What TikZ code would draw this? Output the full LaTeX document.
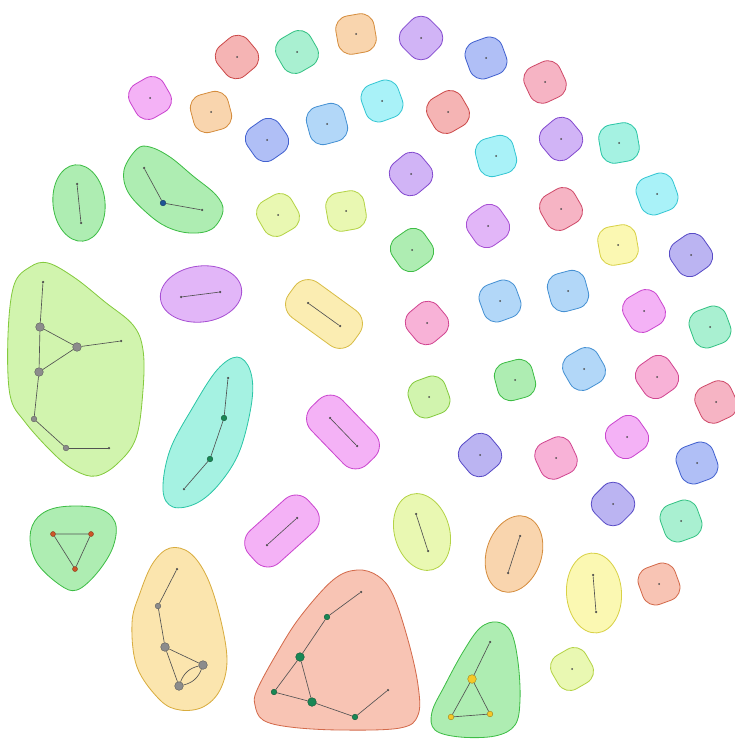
\documentclass[tikz,border=0pt]{standalone}
\usepackage{tikz}
\usetikzlibrary{shapes.geometric}
\definecolor{kRed}{RGB}{232,85,85}
\definecolor{kSalmon}{RGB}{240,120,85}
\definecolor{kMint}{RGB}{60,220,150}
\definecolor{kTeal}{RGB}{50,225,190}
\definecolor{kOrange}{RGB}{242,160,70}
\definecolor{kApricot}{RGB}{245,195,70}
\definecolor{kPurple}{RGB}{150,85,235}
\definecolor{kOrchid}{RGB}{190,90,240}
\definecolor{kBlue}{RGB}{75,110,235}
\definecolor{kIndigo}{RGB}{100,85,225}
\definecolor{kRose}{RGB}{235,85,120}
\definecolor{kMagenta}{RGB}{230,80,235}
\definecolor{kPink}{RGB}{238,80,165}
\definecolor{kSky}{RGB}{80,165,240}
\definecolor{kCyan}{RGB}{60,225,240}
\definecolor{kLime}{RGB}{205,240,80}
\definecolor{kChart}{RGB}{150,230,70}
\definecolor{kGreen}{RGB}{70,215,80}
\definecolor{kYellow}{RGB}{245,238,80}
\definecolor{kSun}{RGB}{245,215,80}
\definecolor{vGray}{RGB}{140,140,140}
\definecolor{vGreen}{RGB}{25,135,85}
\definecolor{vBlue}{RGB}{30,85,150}
\definecolor{vRust}{RGB}{205,85,40}
\definecolor{vGold}{RGB}{245,200,40}
\tikzset{
  bfill/.style={fill=#1!44, draw=#1!88!black, line width=0.7pt},
  sblob/.style={bfill=#1, rectangle, rounded corners=4mm, minimum size=11.6mm, inner sep=0pt},
  eblob/.style={bfill=#1, ellipse, inner sep=0pt},
  rblob/.style={bfill=#1, rectangle, rounded corners=5mm, minimum width=24mm,
                minimum height=13mm, inner sep=0pt},
  gedge/.style={draw=black!68, line width=0.55pt},
  gend/.style={circle, fill=black!70, minimum size=0.75mm, inner sep=0pt},
  gsmall/.style={circle, draw=#1!65!black, fill=#1, line width=0.35pt,
                 minimum size=1.7mm, inner sep=0pt},
  gbig/.style={gsmall=#1, minimum size=2.6mm},
}
\begin{document}
\begin{tikzpicture}[x=0.03cm, y=-0.03cm]
  \useasboundingbox (0,0) rectangle (734,740);
  \foreach \x/\y/\c/\r [count=\k] in {237/57/kRed/40, 297/52/kMint/30, 356/34/kOrange/10,
      421/38/kPurple/45, 486/58/kBlue/20, 545/82/kRose/25, 150/98/kMagenta/30,
      211/112/kOrange/15, 267/140/kBlue/35, 327/124/kSky/15, 382/101/kCyan/20,
      448/112/kRed/30, 496/156/kCyan/15, 561/139/kPurple/40, 619/143/kTeal/10,
      411/174/kPurple/40, 657/194/kCyan/20, 561/209/kRose/30, 488/226/kOrchid/35,
      278/215/kLime/30, 346/211/kLime/10, 412/250/kGreen/35, 618/245/kYellow/10,
      691/255/kIndigo/35, 500/301/kSky/20, 568/291/kSky/15, 644/311/kMagenta/30,
      710/327/kMint/20, 427/323/kPink/40, 515/380/kGreen/15, 584/369/kSky/30,
      657/377/kPink/35, 716/402/kRose/25, 429/397/kChart/20, 480/455/kIndigo/40,
      556/458/kPink/25, 627/437/kMagenta/35, 697/463/kBlue/20, 613/504/kIndigo/45,
      681/521/kMint/20, 659/584/kSalmon/20, 572/669/kLime/30} {
    \node[sblob=\c, rotate=\r] (s\k) at (\x,\y) {};
    \node[gend, minimum size=0.6mm] (c\k) at (s\k.center) {};
  }

  \node[eblob=kGreen, minimum width=15.6mm, minimum height=23mm, rotate=6] (ba) at (79,203) {};
  \node[gend] (a1) at (77,184) {};
  \node[gend] (a2) at (81,223) {};
  \draw[gedge] (a1) -- (a2);

  \node[eblob=kOrchid, minimum width=24.5mm, minimum height=16.8mm, rotate=7] (bc) at (201,294) {};
  \node[gend] (e1) at (181,297) {};
  \node[gend] (e2) at (220,292) {};
  \draw[gedge] (e1) -- (e2);

  \node[eblob=kLime, minimum width=16.5mm, minimum height=23.5mm, rotate=16] (bm) at (422,532) {};
  \node[gend] (m1) at (416,514) {};
  \node[gend] (m2) at (428,551) {};
  \draw[gedge] (m1) -- (m2);

  \node[eblob=kOrange, minimum width=16.5mm, minimum height=23.5mm, rotate=-18] (bn) at (514,554) {};
  \node[gend] (n1) at (520,536) {};
  \node[gend] (n2) at (508,573) {};
  \draw[gedge] (n1) -- (n2);

  \node[eblob=kYellow, minimum width=16.5mm, minimum height=24mm, rotate=4] (bo) at (594,593) {};
  \node[gend] (o1) at (593,575) {};
  \node[gend] (o2) at (596,612) {};
  \draw[gedge] (o1) -- (o2);

  \node[rblob=kSun, rotate=-36] (bf) at (324,314) {};
  \node[gend] (f1) at (308,303) {};
  \node[gend] (f2) at (340,326) {};
  \draw[gedge] (f1) -- (f2);

  \node[rblob=kMagenta, rotate=-46] (bg) at (343,432) {};
  \node[gend] (h1) at (330,418) {};
  \node[gend] (h2) at (357,446) {};
  \draw[gedge] (h1) -- (h2);

  \node[rblob=kMagenta, rotate=42] (bh) at (282,531) {};
  \node[gend] (i1) at (267,545) {};
  \node[gend] (i2) at (297,518) {};
  \draw[gedge] (i1) -- (i2);

  \draw[bfill=kGreen] plot[smooth cycle, tension=0.6] coordinates {(137,149) (124,170) (128,192)
    (147,213) (167,227) (190,233) (212,229) (223,211) (216,195) (193,176) (170,157) (150,147)};
  \node[gend] (b1) at (144,168) {};
  \node[gsmall=vBlue] (b2) at (163,203) {};
  \node[gend] (b3) at (202,210) {};
  \draw[gedge] (b1) -- (b2) -- (b3);

  \draw[bfill=kChart] plot[smooth cycle, tension=0.6] coordinates {(14,285) (30,267) (48,263)
    (75,278) (105,302) (133,325) (143,350) (143,390) (136,438) (117,464) (96,476) (76,471)
    (55,455) (25,422) (10,395) (8,335)};
  \node[gend] (d1) at (43,282) {};
  \node[gbig=vGray] (d2) at (40,327) {};
  \node[gbig=vGray] (d3) at (77,347) {};
  \node[gend] (d4) at (121,341) {};
  \node[gbig=vGray] (d5) at (39,372) {};
  \node[gsmall=vGray] (d6) at (34,419) {};
  \node[gsmall=vGray] (d7) at (66,448) {};
  \node[gend] (d8) at (109,448) {};
  \foreach \a/\b in {1/2,2/5,2/3,3/5,3/4,5/6,6/7,7/8} {
    \draw[gedge] (d\a) -- (d\b);
  }

  \draw[bfill=kTeal] plot[smooth cycle, tension=0.6] coordinates {(237,357) (250,370) (252,400)
    (240,450) (220,483) (197,503) (173,507) (163,490) (170,450) (193,407) (217,370)};
  \node[gend] (t1) at (228,378) {};
  \node[gsmall=vGreen] (t2) at (224,418) {};
  \node[gsmall=vGreen] (t3) at (210,459) {};
  \node[gend] (t4) at (184,489) {};
  \draw[gedge] (t1) -- (t2) -- (t3) -- (t4);

  \draw[bfill=kGreen] plot[smooth cycle, tension=0.6] coordinates {(60,507) (97,508) (115,522)
    (113,547) (97,573) (77,590) (60,585) (37,563) (30,537) (38,517)};
  \node[gsmall=vRust, minimum size=1.5mm] (r1) at (53,534) {};
  \node[gsmall=vRust, minimum size=1.5mm] (r2) at (91,534) {};
  \node[gsmall=vRust, minimum size=1.5mm] (r3) at (75,569) {};
  \draw[gedge] (r1) -- (r2) -- (r3) -- (r1);

  \draw[bfill=kApricot] plot[smooth cycle, tension=0.6] coordinates {(170,548) (190,553) (207,577)
    (220,617) (227,660) (220,690) (203,707) (180,710) (160,700) (137,667) (132,623) (140,593)
    (153,563)};
  \node[gend] (p1) at (177,569) {};
  \node[gsmall=vGray] (p2) at (158,606) {};
  \node[gbig=vGray] (p3) at (165,647) {};
  \node[gbig=vGray] (p4) at (203,665) {};
  \node[gbig=vGray] (p5) at (179,686) {};
  \foreach \a/\b in {1/2,2/3,3/4,3/5} {
    \draw[gedge] (p\a) -- (p\b);
  }
  \draw[gedge] (p4) to[bend left=28] (p5);
  \draw[gedge] (p4) to[bend right=28] (p5);

  \draw[bfill=kSalmon] plot[smooth cycle, tension=0.6] coordinates {(357,570) (378,576) (393,595)
    (408,640) (418,685) (418,715) (400,728) (340,730) (290,727) (263,720) (255,705) (257,690)
    (277,653) (300,617) (333,580)};
  \node[gend] (k1) at (361,592) {};
  \node[gsmall=vGreen] (k2) at (327,617) {};
  \node[gbig=vGreen] (k3) at (300,657) {};
  \node[gsmall=vGreen] (k4) at (274,692) {};
  \node[gbig=vGreen] (k5) at (312,702) {};
  \node[gsmall=vGreen] (k6) at (355,717) {};
  \node[gend] (k7) at (388,690) {};
  \foreach \a/\b in {1/2,2/3,3/4,3/5,4/5,5/6,6/7} {
    \draw[gedge] (k\a) -- (k\b);
  }

  \draw[bfill=kGreen] plot[smooth cycle, tension=0.6] coordinates {(497,622) (511,632) (518,662)
    (520,700) (515,725) (495,736) (460,737) (435,730) (432,712) (445,685) (463,652) (480,628)};
  \node[gend] (g1) at (490,642) {};
  \node[gbig=vGold] (g2) at (472,679) {};
  \node[gsmall=vGold] (g3) at (451,717) {};
  \node[gsmall=vGold] (g4) at (490,714) {};
  \foreach \a/\b in {1/2,2/3,2/4,3/4} {
    \draw[gedge] (g\a) -- (g\b);
  }
\end{tikzpicture}
\end{document}
